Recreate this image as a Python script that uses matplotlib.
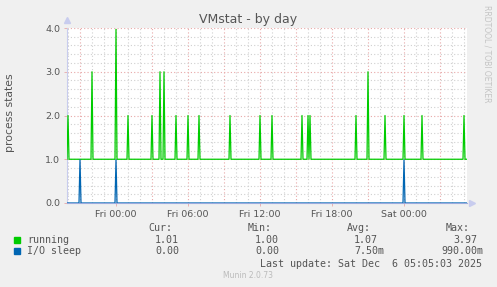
import matplotlib
matplotlib.use("Agg")
import matplotlib.pyplot as plt
import numpy as np

# time axis in hours relative to Fri 00:00, one sample every 5 minutes
t_start = -49 / 12.0
t_end = 29.25
step_h = 5 / 60.0

running_base = 1.0
running_spike_hours = [-4.0, -2.0, 0.0, 1.0, 3.0, 3.67, 4.0, 5.0, 6.0, 6.95,
                       9.5, 12.0, 13.0, 15.5, 16.0, 16.17, 20.0, 21.0, 22.42,
                       24.0, 25.5, 29.0]
running_spike_vals = [2.0, 3.0, 3.97, 2.0, 2.0, 3.0, 3.0, 2.0, 2.0, 2.0,
                      2.0, 2.0, 2.0, 2.0, 2.0, 2.0, 2.0, 3.0, 2.0,
                      2.0, 2.0, 2.0]

iosleep_base = 0.0
iosleep_spike_hours = [-3.0, 0.0, 24.0]
iosleep_spike_vals = [0.99, 0.99, 0.99]

xtick_hours = [0, 6, 12, 18, 24]
xtick_labels = ["Fri 00:00", "Fri 06:00", "Fri 12:00", "Fri 18:00", "Sat 00:00"]
ytick_vals = [0.0, 1.0, 2.0, 3.0, 4.0]

legend_names = ["running", "I/O sleep"]
legend_colors = ["#00CC00", "#0066B3"]
cur_vals = ["1.01", "0.00"]
min_vals = ["1.00", "0.00"]
avg_vals = ["1.07", "7.50m"]
max_vals = ["3.97", "990.00m"]

title = "VMstat - by day"
ylabel = "process states"
last_update = "Last update: Sat Dec  6 05:05:03 2025"

## build sample series
n = int(round((t_end - t_start) / step_h))
t = t_start + np.arange(n + 1) * step_h


def series(base, hours, vals):
    y = np.full(t.shape, base)
    for h, v in zip(hours, vals):
        y[np.argmin(np.abs(t - h))] = v
    return y


running = series(running_base, running_spike_hours, running_spike_vals)
iosleep = series(iosleep_base, iosleep_spike_hours, iosleep_spike_vals)

W, H = 497, 287
bg = "#F0F0F0"
txt = "#555555"
red_grid = "#E8A8A8"
gray_grid = "#D0D0D0"

fig = plt.figure(figsize=(W / 100, H / 100), dpi=100, facecolor=bg)
ax = fig.add_axes([67 / W, 1 - 203 / H, 400 / W, 175 / H], facecolor="white")

# grid
for h in np.arange(-4, 30, 1):
    ax.axvline(h, color=red_grid if h % 3 == 0 else gray_grid, lw=0.8,
               ls=(0, (1, 2)), zorder=0)
for yv in np.arange(0.2, 4.01, 0.2):
    major = abs(yv - round(yv)) < 1e-6
    ax.axhline(yv, color=red_grid if major else gray_grid, lw=0.8,
               ls=(0, (1, 2)), zorder=0)

ax.plot(t, running, color=legend_colors[0], lw=0.9, zorder=3)
ax.plot(t, iosleep, color=legend_colors[1], lw=0.9, zorder=4)

ax.set_xlim(t_start, t_end)
ax.set_ylim(0, 4.0)

ax.set_xticks(xtick_hours)
ax.set_xticklabels(xtick_labels)
ax.set_yticks(ytick_vals)
ax.set_yticklabels(["%.1f" % v for v in ytick_vals])
ax.tick_params(axis="both", labelsize=6.8, colors=red_grid, labelcolor=txt,
               length=2, width=0.6, pad=3)

for s in ["top", "right"]:
    ax.spines[s].set_visible(False)
ax.spines["left"].set_color("#C8CCEE")
ax.spines["bottom"].set_color("#9AAADD")
ax.spines["left"].set_linewidth(0.8)
ax.spines["bottom"].set_linewidth(0.8)

# axis arrows
ax.plot([0], [1.045], marker="^", ms=4, color="#C8CCEE", transform=ax.transAxes,
        clip_on=False)
ax.plot([1.012], [0], marker=">", ms=4, color="#C8CCEE", transform=ax.transAxes,
        clip_on=False)

fig.text(248 / W, 1 - 19 / H, title, ha="center", va="center", fontsize=9,
         color=txt)
fig.text(10 / W, 1 - 113 / H, ylabel, ha="center", va="center", rotation=90,
         fontsize=7.8, color=txt)
fig.text(487.5 / W, 1 - 53.5 / H, "RRDTOOL / TOBI OETIKER", ha="center",
         va="center", rotation=270, fontsize=5.5, color="#C4C4C4")

# legend block
mono = "DejaVu Sans Mono"
fs = 7.2
hy = 228.3
for xr, head in [(172, "Cur:"), (272, "Min:"), (371, "Avg:"), (470, "Max:")]:
    fig.text(xr / W, 1 - hy / H, head, ha="right", va="center", family=mono,
             fontsize=fs, color=txt)

rows_y = [239.7, 251.0]
for i, ry in enumerate(rows_y):
    yy = 1 - ry / H
    fig.patches.append(plt.Rectangle((14 / W, 1 - (ry + 3) / H), 6 / W, 6 / H,
                                     transform=fig.transFigure,
                                     color=legend_colors[i]))
    fig.text(27 / W, yy, legend_names[i], ha="left", va="center", family=mono,
             fontsize=fs, color=txt)
    for x_r, vals in [(179, cur_vals), (279, min_vals), (378, avg_vals),
                      (477, max_vals)]:
        v = vals[i]
        xr = x_r + (6 if v.endswith("m") else 0)
        fig.text(xr / W, yy, v, ha="right", va="center", family=mono,
                 fontsize=fs, color=txt)

fig.text(482 / W, 1 - 263.7 / H, last_update, ha="right", va="center",
         family=mono, fontsize=fs, color=txt)
fig.text(248 / W, 1 - 276 / H, "Munin 2.0.73", ha="center", va="center",
         fontsize=5.5, color="#BBBBBB")

fig.savefig("out.png", dpi=100, facecolor=bg)
